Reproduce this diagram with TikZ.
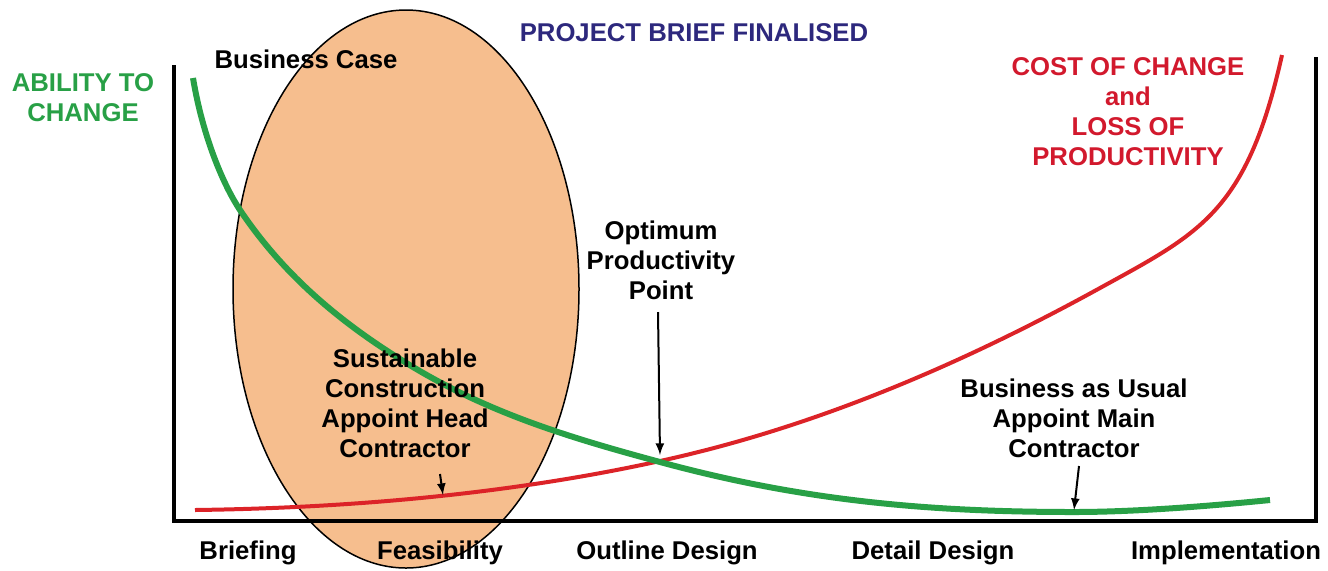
\documentclass[tikz,border=0pt]{standalone}
\usepackage{fontspec}
\setmainfont{Liberation Sans}
\usepackage{tikz}

\definecolor{abilitygreen}{RGB}{40,160,70}
\definecolor{costred}{RGB}{220,35,40}
\definecolor{costtext}{RGB}{210,25,45}
\definecolor{briefnavy}{RGB}{45,40,125}
\definecolor{peach}{RGB}{246,190,142}

\tikzset{
  boldtxt/.style={font=\fontsize{12.85}{15}\bfseries\selectfont, align=center, inner sep=0pt},
  stagetxt/.style={boldtxt, text height=0.72em, text depth=0pt},
  pointer/.style={->, >=latex, line width=1pt}
}

\begin{document}
\begin{tikzpicture}[x=0.5pt,y=-0.5pt]
\useasboundingbox (0,0) rectangle (1328,570);

\draw[fill=peach, line width=0.75pt] (406,289) ellipse [x radius=173, y radius=279];

\draw[costred, line width=2pt] (195,510) .. controls (350,508) and (510,494) .. (660,461)
  .. controls (807,429) and (953,369) .. (1100,288)
  .. controls (1200,233) and (1247,212) .. (1282,55);
\draw[abilitygreen, line width=3pt] (193,78) .. controls (203,138) and (224,186) .. (240,210)
  .. controls (285,277) and (343,325) .. (413,367)
  .. controls (493,415) and (575,439) .. (660,462)
  .. controls (800,500) and (924,512) .. (1074,512)
  .. controls (1140,512) and (1220,505) .. (1270,500);

\draw[line width=2pt] (174,65) -- (174,521) -- (1316,521) -- (1316,57);

\node[boldtxt, abilitygreen] (ability) at (83,98) {ABILITY TO\\CHANGE};
\node[boldtxt] (bizcase) at (306,59) {Business Case};
\node[boldtxt, briefnavy] (brief) at (694,33) {PROJECT BRIEF FINALISED};
\node[boldtxt, costtext] (cost) at (1128,112) {COST OF CHANGE\\and\\LOSS OF\\PRODUCTIVITY};
\node[boldtxt] (optimum) at (661,260) {Optimum\\Productivity\\Point};
\node[boldtxt] (sustain) at (405,403) {Sustainable\\Construction\\Appoint Head\\Contractor};
\node[boldtxt] (usual) at (1074,418) {Business as Usual\\Appoint Main\\Contractor};

\foreach \x/\name/\txt in {248/briefing/Briefing, 440/feasibility/Feasibility, 667/outline/Outline Design, 933/detail/Detail Design, 1226/implementation/Implementation}
  \node[stagetxt] (\name) at (\x,552) {\txt};

\coordinate (optTail) at (658,312);
\coordinate (optHead) at (660,455);
\draw[pointer] (optTail) -- (optHead);
\coordinate (headTail) at (440,474);
\coordinate (headHead) at (443,495);
\draw[pointer] (headTail) -- (headHead);
\coordinate (mainTail) at (1079,466);
\coordinate (mainHead) at (1074,510);
\draw[pointer] (mainTail) -- (mainHead);
\end{tikzpicture}
\end{document}
